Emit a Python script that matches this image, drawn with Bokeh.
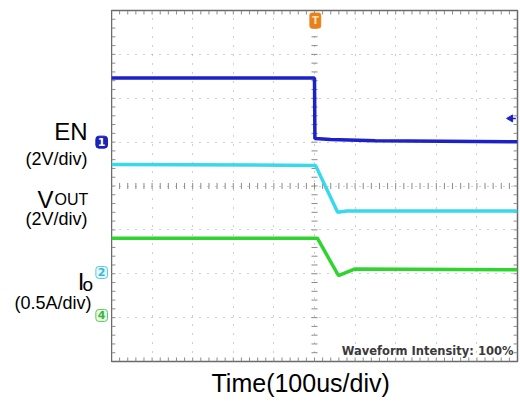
import numpy as np
from bokeh.plotting import figure
from bokeh.layouts import row
from bokeh.models import Range1d, Label, Grid, FixedTicker, Title
from bokeh.embed import file_html
from bokeh.resources import INLINE

# ---- data (time in us, 100 us/div, trigger at 0; vertical in screen divisions) ----
en_t = [-500, 0, 1, 40, 150, 500]
en_div = [2.46, 2.46, 1.08, 1.06, 1.03, 1.01]

vout_t = [-500, 2.5, 57, 80, 500]
vout_div = [0.49, 0.47, -0.60, -0.57, -0.57]

io_t = [-500, 7, 59, 100, 500]
io_div = [-1.19, -1.19, -2.04, -1.89, -1.91]

# channel ground markers (divisions)
ch_names = ["1", "2", "4"]
ch_levels = [1.0, -1.97, -2.95]
trigger_level = 1.54

FONT = "Liberation Sans"
yr = Range1d(-4, 4)

# ---- left panel with channel names ----
left = figure(width=111, height=405, x_range=Range1d(0, 111), y_range=yr,
              x_axis_type=None, y_axis_type=None,
              output_backend="svg", toolbar_location=None,
              min_border_left=0, min_border_right=0,
              min_border_top=10, min_border_bottom=44)
left.outline_line_color = None
left.background_fill_color = "white"
left.border_fill_color = "white"


def lab(x, y, text, size, align="right"):
    left.add_layout(Label(x=x, y=y, text=text, text_align=align, text_baseline="alphabetic",
                          text_font=FONT, text_font_size=size, text_color="black"))


lab(87, 1.249, "EN", "24px")
lab(87, 0.616, "(2V/div)", "18px")
lab(37, -0.307, "V", "24px", align="left")
lab(54, -0.307, "OUT", "16px", align="left")
lab(84, -2.18, "I", "24px")
lab(82, -2.25, "o", "19px", align="left")
lab(87, -0.752, "(2V/div)", "18px")
lab(91, -2.666, "(0.5A/div)", "18px")

tag_styles = [
    dict(bg="#1c22b8", fg="white", border="#1c22b8"),
    dict(bg="#e4f7fb", fg="#3ab8d0", border="#5cc8dc"),
    dict(bg="#eaf8ea", fg="#38b838", border="#5ccc5c"),
]
for name, lvl, st in zip(ch_names, ch_levels, tag_styles):
    left.add_layout(Label(x=107, y=lvl, text=name, text_align="right", text_baseline="middle",
                          text_font="DejaVu Sans", text_font_style="bold", text_font_size="11px",
                          text_color=st["fg"], background_fill_color=st["bg"],
                          border_line_color=st["border"], border_line_width=1,
                          padding=2, border_radius=3))

# ---- scope screen ----
p = figure(width=408, height=405,
           x_range=Range1d(-500, 500), y_range=yr,
           x_axis_type=None, y_axis_type=None,
           output_backend="svg", toolbar_location=None,
           min_border_left=0, min_border_right=2,
           min_border_top=10, min_border_bottom=44)
p.outline_line_color = "#6a6a6a"
p.outline_line_width = 1.5
p.background_fill_color = "white"
p.border_fill_color = "white"

p.add_layout(Grid(dimension=0, ticker=FixedTicker(ticks=list(range(-400, 500, 100))),
                  grid_line_color="#9c9c9c", grid_line_dash="1 8", grid_line_width=1))
p.add_layout(Grid(dimension=1, ticker=FixedTicker(ticks=[-3, -2, -1, 0, 1, 2, 3]),
                  grid_line_color="#9c9c9c", grid_line_dash="1 7", grid_line_width=1))

minor_x = np.arange(-480, 481, 20)
minor_y = np.arange(-3.8, 3.81, 0.2)
hx = 7.4    # ~3 px in x
hy = 0.07   # ~3 px in y
tick_col = "#8a8a8a"
p.segment(x0=minor_x, y0=-hy, x1=minor_x, y1=hy, line_color=tick_col, line_width=1)
p.segment(x0=-hx, y0=minor_y, x1=hx, y1=minor_y, line_color=tick_col, line_width=1)
p.segment(x0=minor_x, y0=4, x1=minor_x, y1=4 - 1.3 * hy, line_color=tick_col, line_width=1)
p.segment(x0=minor_x, y0=-4, x1=minor_x, y1=-4 + 1.3 * hy, line_color=tick_col, line_width=1)
p.segment(x0=-500, y0=minor_y, x1=-500 + 1.3 * hx, y1=minor_y, line_color=tick_col, line_width=1)
p.segment(x0=500, y0=minor_y, x1=500 - 1.3 * hx, y1=minor_y, line_color=tick_col, line_width=1)

p.line(vout_t, vout_div, line_color="#3ad8ec", line_width=3.5)
p.line(io_t, io_div, line_color="#2fd42f", line_width=3.5)
p.line(en_t, en_div, line_color="#1c22c8", line_width=3.5)

p.scatter([483], [trigger_level], marker="triangle", angle=np.pi / 2, size=7,
          fill_color="#1c22c8", line_color="#1c22c8")
p.segment(x0=[483], y0=[trigger_level], x1=[496], y1=[trigger_level],
          line_color="#1c22c8", line_width=1.5)

p.add_layout(Label(x=2, y=3.77, text="T", text_align="center", text_baseline="middle",
                   text_font="DejaVu Sans", text_font_style="bold", text_font_size="10px",
                   text_color="#fde0b0", background_fill_color="#e8801c",
                   border_line_color="#e8801c", padding=2, border_radius=2))

p.add_layout(Label(x=490, y=-3.75, text="Waveform Intensity: 100%", text_align="right",
                   text_baseline="alphabetic", text_font="DejaVu Sans", text_font_style="bold",
                   text_font_size="11.5px", text_color="#3a3a3a"))

p.add_layout(Title(text="Time(100us/div)", align="left", offset=100, standoff=10,
                   text_font=FONT, text_font_size="25px", text_font_style="normal",
                   text_color="black"), "below")

layout = row(left, p, spacing=0)
open("out.html", "w").write(file_html(layout, INLINE))
